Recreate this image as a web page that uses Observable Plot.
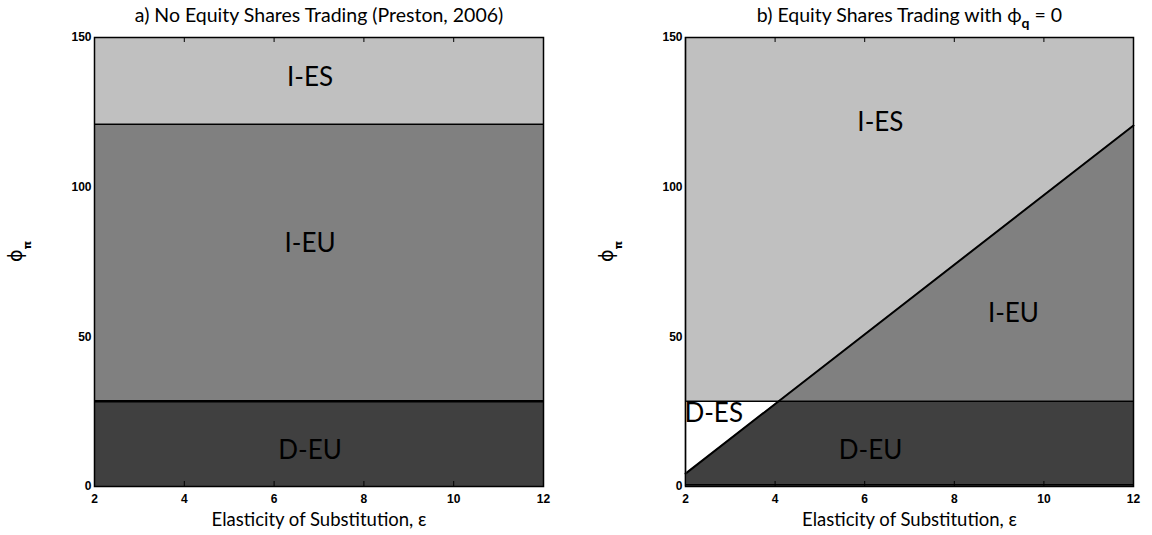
<!DOCTYPE html>
<html><head><meta charset="utf-8">
<script src="https://cdn.jsdelivr.net/npm/d3@7"></script>
<script src="https://cdn.jsdelivr.net/npm/@observablehq/plot@0.6"></script>
<style>
body{margin:0;background:#fff;}
#wrap{display:flex;width:1152px;height:535px;}
#wrap svg{display:block;overflow:visible}
</style></head><body><div id="wrap"></div>
<script>
// ---- shared axes ----
const xTicks = [2, 4, 6, 8, 10, 12];
const yTicks = [0, 50, 100, 150];
const xDomain = [2, 12];
const yDomain = [0, 150];
const xLabel = "Elasticity of Substitution, \u03B5";

// ---- panel a: horizontal regime bands ----
const titleA = "a) No Equity Shares Trading (Preston, 2006)";
const regionsA = ["D-EU", "I-EU", "I-ES"];
const boundsA = [0, 28.5, 121, 150];
const labelXA = [6.8, 6.8, 6.8];
const labelYA = [12.0, 81.2, 136.6];

// ---- panel b: diagonal boundary ----
const titleB = "b) Equity Shares Trading with \u03D5q = 0";
const epsB = [2, 4.08, 12];          // x points of the boundary
const diagB = [4.3, 28.5, 120.6];    // I-EU / I-ES boundary (and D-ES lower edge)
const levelB = 28.5;                 // D / I boundary
const regionsB = ["I-ES", "I-EU", "D-EU", "D-ES"];
const labelXB = [6.35, 9.32, 6.13, 2.63];
const labelYB = [121.6, 57.8, 12.0, 24.4];

const colors = {"D-EU": "#404040", "I-EU": "#808080", "I-ES": "#c0c0c0", "D-ES": "#ffffff"};
const FONT = "Lato, 'Open Sans', sans-serif";
const TICKFONT = "'Liberation Sans', Arial, sans-serif";

function commonMarks(title, frameH) {
  return [
    Plot.frame({stroke: "black", strokeWidth: 1.5}),
    Plot.tickX(xTicks, {x: d => d, insetTop: frameH - 5, stroke: "black"}),
    Plot.tickX(xTicks, {x: d => d, insetBottom: frameH - 5, stroke: "black"}),
    Plot.axisX(xTicks, {tickSize: 0, tickPadding: 8, fontSize: 12, fontWeight: "bold",
      fontFamily: TICKFONT, label: null}),
    Plot.axisY(yTicks, {tickSize: 0, tickPadding: 3, fontSize: 12, fontWeight: "bold",
      fontFamily: TICKFONT, label: null}),
    Plot.text([title], {frameAnchor: "top", lineAnchor: "middle", dy: -22, fontSize: 19.5,
      fontFamily: FONT, fill: "black", text: d => d}),
    Plot.text([xLabel], {frameAnchor: "bottom", lineAnchor: "middle", dy: 34, fontSize: 18.5,
      fontFamily: FONT, fill: "black", text: d => d}),
    Plot.text(["\u03D5\u03C0"], {frameAnchor: "left", dx: -79, rotate: -90, fontSize: 19,
      fontFamily: "'DejaVu Sans', sans-serif", fill: "black", text: d => d})
  ];
}

const H = 535, MT = 37, MB = 49;
const frameH = H - MT - MB;

// panel a
const bandData = regionsA.map((r, i) => ({region: r, y1: boundsA[i], y2: boundsA[i + 1]}));
const plotA = Plot.plot({
  width: 576, height: H,
  marginLeft: 94, marginRight: 33, marginTop: MT, marginBottom: MB,
  x: {domain: xDomain, axis: null},
  y: {domain: yDomain, axis: null},
  marks: [
    Plot.rect(bandData, {x1: xDomain[0], x2: xDomain[1], y1: "y1", y2: "y2", fill: d => colors[d.region]}),
    Plot.ruleY([boundsA[2]], {stroke: "black", strokeWidth: 1.5}),
    Plot.ruleY([boundsA[1]], {stroke: "black", strokeWidth: 2.5}),
    Plot.text(regionsA, {x: (d, i) => labelXA[i], y: (d, i) => labelYA[i], text: d => d,
      fontSize: 26, fontFamily: FONT, fill: "black"}),
    ...commonMarks(titleA, frameH)
  ]
});

// panel b
const ptsB = epsB.map((x, i) => ({x, diag: diagB[i]}));
const leftPts = ptsB.filter(d => d.x <= epsB[1]);
const rightPts = ptsB.filter(d => d.x >= epsB[1]);
const plotB = Plot.plot({
  width: 576, height: H,
  marginLeft: 109, marginRight: 19, marginTop: MT, marginBottom: MB,
  x: {domain: xDomain, axis: null},
  y: {domain: yDomain, axis: null},
  marks: [
    Plot.rect([0], {x1: xDomain[0], x2: xDomain[1], y1: yDomain[0], y2: yDomain[1], fill: colors["I-ES"]}),
    Plot.areaY(ptsB, {x: "x", y1: 0, y2: d => Math.min(d.diag, levelB), fill: colors["D-EU"]}),
    Plot.areaY(leftPts, {x: "x", y1: "diag", y2: levelB, fill: colors["D-ES"]}),
    Plot.areaY(rightPts, {x: "x", y1: levelB, y2: "diag", fill: colors["I-EU"]}),
    Plot.ruleY([levelB], {stroke: "black", strokeWidth: 1.5}),
    Plot.line(ptsB, {x: "x", y: "diag", stroke: "black", strokeWidth: 2}),
    Plot.ruleX([xDomain[0]], {stroke: "#7a7a7a", strokeWidth: 1.5}),
    Plot.ruleY([0.6], {stroke: "black", strokeWidth: 1.5}),
    Plot.text(regionsB, {x: (d, i) => labelXB[i], y: (d, i) => labelYB[i], text: d => d,
      fontSize: 26, fontFamily: FONT, fill: "black"}),
    ...commonMarks(titleB, frameH)
  ]
});

// subscripts
function subscripts(svg) {
  d3.select(svg).selectAll("text").each(function () {
    const t = this.textContent;
    if (t === "\u03D5\u03C0") {
      d3.select(this).text(null);
      d3.select(this).append("tspan").text("\u03D5");
      d3.select(this).append("tspan").attr("dy", "9").attr("font-size", 11).attr("font-weight", "bold").text("\u03C0");
    } else if (t === titleB) {
      d3.select(this).text(null);
      d3.select(this).append("tspan").text("b) Equity Shares Trading with \u03D5");
      d3.select(this).append("tspan").attr("dy", "6").attr("font-size", 14).attr("font-weight", "bold").text("q");
      d3.select(this).append("tspan").attr("dy", "-6").text(" = 0");
    }
  });
}
subscripts(plotA); subscripts(plotB);
document.getElementById("wrap").append(plotA, plotB);
</script></body></html>
